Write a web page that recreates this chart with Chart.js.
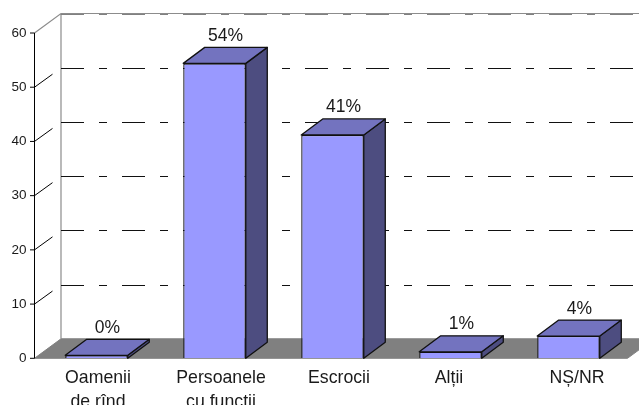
<!DOCTYPE html>
<html>
<head>
<meta charset="utf-8">
<script src="https://cdn.jsdelivr.net/npm/chart.js@4/dist/chart.umd.min.js"></script>
<style>
html, body { margin: 0; padding: 0; background: #fff; overflow: hidden; width: 639px; height: 405px; }
canvas { display: block; }
</style>
</head>
<body>
<canvas id="chart" width="639" height="430"></canvas>
<script>
const categories = [['Oamenii', 'de rînd'], ['Persoanele', 'cu funcții'], 'Escrocii', 'Alții', 'NȘ/NR'];
const values = [0.55, 54.4, 41.2, 1.2, 4.1];
const valueLabels = ['0%', '54%', '41%', '1%', '4%'];
const yTicks = [0, 10, 20, 30, 40, 50, 60];

const FONT = '"Liberation Sans", Arial, sans-serif';
const WALL = { dx: 26.5, dy: 19.5 };
const BAR_DEPTH = { dx: 21.5, dy: 16 };
// the source chart does not centre its category labels evenly
const LABEL_NUDGE = [1.5, 6.5, 6.5, -1.5, 8.5];

function poly(ctx, pts, fill) {
    ctx.beginPath();
    pts.forEach((p, i) => i ? ctx.lineTo(p[0], p[1]) : ctx.moveTo(p[0], p[1]));
    ctx.closePath();
    ctx.fillStyle = fill;
    ctx.fill();
    ctx.stroke();
}

const nudgeLabels = {
    id: 'nudgeLabels',
    beforeDraw(chart) {
        chart.scales.x.getLabelItems().forEach((item, i) => {
            item.options.translation[0] += LABEL_NUDGE[i];
        });
    }
};

// the 3d box behind the plot: wall, floor, dashed lines, axis
const backdrop = {
    id: 'backdrop',
    beforeDatasetsDraw(chart) {
        const ctx = chart.ctx;
        const y = chart.scales.y;
        const axisX = 34.5;
        const right = chart.chartArea.right;
        const y0 = y.getPixelForValue(0);
        ctx.save();

        ctx.strokeStyle = '#808080';
        ctx.lineWidth = 1;
        poly(ctx, [[axisX, y0], [right, y0], [right + WALL.dx, y0 - WALL.dy], [axisX + WALL.dx, y0 - WALL.dy]], '#808080');

        const top = y.getPixelForValue(60);
        ctx.strokeStyle = '#8c8c8c';
        ctx.lineWidth = 1.2;
        ctx.beginPath();
        ctx.moveTo(axisX, top);
        ctx.lineTo(axisX + WALL.dx, top - WALL.dy);
        ctx.lineTo(639, top - WALL.dy);
        ctx.moveTo(axisX + WALL.dx, top - WALL.dy);
        ctx.lineTo(axisX + WALL.dx, y0 - WALL.dy);
        ctx.stroke();

        ctx.setLineDash([23, 15, 8, 15]);
        yTicks.slice(1).forEach((v) => {
            const py = Math.floor(y.getPixelForValue(v) - 19) + 0.5;
            ctx.strokeStyle = v === 60 ? '#808080' : '#111';
            ctx.lineWidth = 1;
            ctx.beginPath();
            ctx.moveTo(axisX + WALL.dx, py);
            ctx.lineTo(639, py);
            ctx.stroke();
        });
        ctx.setLineDash([]);

        ctx.strokeStyle = '#000';
        ctx.lineWidth = 1;
        yTicks.forEach((v) => {
            const py = y.getPixelForValue(v);
            ctx.beginPath();
            ctx.moveTo(axisX - 4.5, py);
            ctx.lineTo(axisX, py);
            if (v > 0 && v < 60) {
                ctx.moveTo(axisX, py);
                ctx.lineTo(axisX + 18, py - 13);
            }
            ctx.stroke();
        });
        ctx.beginPath();
        ctx.moveTo(axisX, top);
        ctx.lineTo(axisX, y0);
        ctx.stroke();
        ctx.restore();
    }
};

// top and side faces of each bar, plus the value text over them
const boxes = {
    id: 'boxes',
    afterDatasetsDraw(chart) {
        const ctx = chart.ctx;
        const bars = chart.getDatasetMeta(0).data;
        ctx.save();
        ctx.strokeStyle = '#111';
        ctx.lineWidth = 1.3;
        ctx.lineJoin = 'round';
        bars.forEach((bar, i) => {
            const l = bar.x - bar.width / 2;
            const r = bar.x + bar.width / 2;
            const t = bar.y;
            const b = bar.base;
            const d = BAR_DEPTH;
            poly(ctx, [[r, t], [r + d.dx, t - d.dy], [r + d.dx, b - d.dy], [r, b]], '#4d4d80');
            poly(ctx, [[l, t], [l + d.dx, t - d.dy], [r + d.dx, t - d.dy], [r, t]], '#7373bf');
            ctx.fillStyle = '#1a1a1a';
            ctx.font = '17.5px ' + FONT;
            ctx.textAlign = 'center';
            ctx.textBaseline = 'alphabetic';
            ctx.fillText(valueLabels[i], bar.x + 11, t - d.dy - 6.5);
        });
        ctx.restore();
    }
};

new Chart(document.getElementById('chart'), {
    type: 'bar',
    data: {
        labels: categories,
        datasets: [{
            data: values,
            backgroundColor: '#9999ff',
            borderColor: '#111',
            borderWidth: 1.3,
            barPercentage: 0.53,
            categoryPercentage: 1
        }]
    },
    plugins: [nudgeLabels, backdrop, boxes],
    options: {
        responsive: false,
        animation: false,
        layout: { padding: { top: 33, right: 11.5, left: 0, bottom: 0 } },
        plugins: { legend: { display: false }, title: { display: false }, tooltip: { enabled: false } },
        scales: {
            x: {
                grid: { display: false },
                border: { display: false },
                afterFit: (scale) => { scale.height = 430 - 358.3; },
                ticks: {
                    color: '#1a1a1a',
                    font: { family: FONT, size: 17.7, lineHeight: 1.34 },
                    padding: 0,
                    maxRotation: 0,
                    autoSkip: false
                }
            },
            y: {
                min: 0,
                max: 60,
                grid: { display: false },
                border: { display: false },
                afterFit: (scale) => { scale.width = 37.5; },
                afterBuildTicks: (scale) => { scale.ticks = yTicks.map((v) => ({ value: v })); },
                ticks: {
                    color: '#1a1a1a',
                    font: { family: FONT, size: 13.5 },
                    padding: 3
                }
            }
        }
    }
});
</script>
</body>
</html>
